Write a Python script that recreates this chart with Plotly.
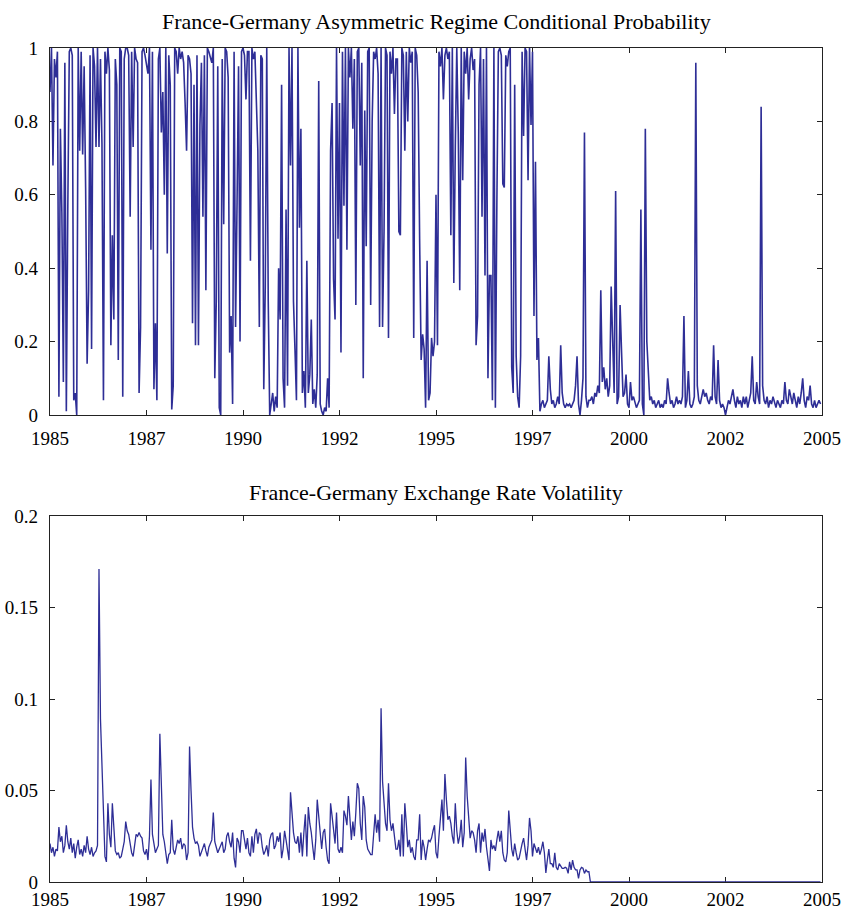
import plotly.graph_objects as go

# ---------------- data (biweekly observations, 26 per year) ----------------
years = list(range(1985, 2005))
obs_per_year = 26

# France-Germany asymmetric regime conditional probability (one row per year)
prob = [
    # 1985
    0.88, 1.0, 0.68, 0.97, 0.92, 0.99, 0.05, 0.78, 0.55, 0.09, 0.96, 0.01, 0.57, 0.99, 1.0, 0.98, 0.04, 0.06, 0.0, 1.0, 0.72, 0.99, 0.71, 0.95, 0.62, 0.14,
    # 1986
    0.34, 0.98, 0.18, 1.0, 0.95, 0.73, 1.0, 0.73, 0.97, 0.74, 0.04, 0.99, 0.93, 1.0, 0.94, 0.19, 0.49, 0.26, 0.97, 0.9, 0.15, 1.0, 0.99, 0.05, 0.97, 1.0,
    # 1987
    1.0, 0.98, 0.54, 0.99, 0.73, 1.0, 0.97, 0.96, 0.06, 0.24, 0.99, 1.0, 0.98, 0.95, 0.93, 1.0, 0.45, 0.99, 0.07, 0.25, 0.04, 0.97, 1.0, 0.77, 0.88, 0.6,
    # 1988
    1.0, 0.44, 0.98, 0.9, 0.015, 0.08, 1.0, 0.99, 0.93, 1.0, 0.97, 0.99, 0.96, 0.85, 0.72, 0.98, 0.97, 0.93, 0.25, 0.9, 0.19, 0.98, 0.19, 0.79, 0.96, 0.54,
    # 1989
    0.98, 0.34, 1.0, 0.99, 0.97, 0.96, 1.0, 0.1, 0.31, 0.95, 0.02, 0.0, 0.97, 0.52, 1.0, 0.99, 0.92, 0.17, 0.27, 0.03, 0.99, 0.24, 0.58, 0.95, 0.2, 0.99,
    # 1990
    1.0, 0.98, 0.86, 0.99, 0.99, 0.42, 1.0, 0.97, 0.99, 0.85, 0.72, 0.24, 0.98, 0.97, 0.07, 0.35, 1.0, 0.31, 0.0, 0.03, 0.06, 0.01, 0.05, 0.02, 0.4, 0.26,
    # 1991
    0.9, 0.1, 0.02, 0.56, 0.08, 1.0, 0.68, 1.0, 0.31, 0.18, 0.04, 1.0, 0.51, 0.78, 0.06, 0.12, 0.02, 0.42, 0.06, 0.11, 0.26, 0.03, 0.07, 0.02, 0.11, 0.91,
    # 1992
    0.03, 0.01, 0.0, 0.02, 0.01, 0.1, 0.02, 0.72, 0.85, 0.37, 0.26, 1.0, 0.48, 0.85, 0.17, 0.99, 0.57, 1.0, 0.45, 1.0, 0.92, 1.0, 0.78, 0.97, 0.30, 0.99,
    # 1993
    1.0, 0.68, 0.96, 0.1, 0.83, 0.46, 0.99, 1.0, 0.30, 0.8, 0.99, 0.97, 1.0, 0.93, 0.24, 1.0, 0.24, 0.5, 1.0, 0.98, 0.21, 0.99, 0.93, 1.0, 0.82, 0.97,
    # 1994
    0.97, 0.5, 0.49, 1.0, 0.98, 0.72, 0.99, 0.8, 1.0, 0.96, 0.99, 0.21, 1.0, 0.98, 0.88, 0.47, 0.15, 0.22, 0.18, 0.02, 0.42, 0.04, 0.06, 0.21, 0.16, 0.2,
    # 1995
    0.6, 0.19, 0.99, 0.95, 1.0, 0.86, 0.98, 1.0, 0.97, 0.99, 0.49, 1.0, 0.36, 0.73, 1.0, 0.77, 0.34, 1.0, 0.64, 0.99, 0.93, 1.0, 0.86, 0.97, 1.0, 0.94,
    # 1996
    0.97, 0.19, 0.27, 0.9, 1.0, 0.54, 0.97, 0.38, 1.0, 0.1, 0.38, 0.38, 0.04, 1.0, 0.02, 0.58, 0.99, 1.0, 0.98, 0.63, 0.62, 0.98, 0.95, 0.99, 1.0, 0.13,
    # 1997
    0.06, 0.9, 0.16, 0.05, 0.02, 0.16, 0.99, 0.76, 1.0, 0.99, 0.64, 1.0, 0.79, 0.99, 0.27, 0.69, 0.15, 0.21, 0.01, 0.03, 0.04, 0.02, 0.03, 0.04, 0.16, 0.07,
    # 1998
    0.03, 0.04, 0.02, 0.03, 0.05, 0.03, 0.19, 0.06, 0.03, 0.02, 0.03, 0.025, 0.03, 0.02, 0.03, 0.04, 0.08, 0.16, 0.03, 0.0, 0.04, 0.1, 0.77, 0.05, 0.02, 0.04,
    # 1999
    0.04, 0.05, 0.03, 0.06, 0.05, 0.08, 0.06, 0.34, 0.09, 0.13, 0.07, 0.1, 0.05, 0.08, 0.35, 0.17, 0.06, 0.61, 0.03, 0.05, 0.3, 0.17, 0.05, 0.06, 0.11, 0.03,
    # 2000
    0.02, 0.09, 0.04, 0.05, 0.03, 0.02, 0.03, 0.04, 0.56, 0.03, 0.0, 0.78, 0.2, 0.11, 0.04, 0.05, 0.03, 0.04, 0.02, 0.03, 0.04, 0.02, 0.03, 0.02, 0.04, 0.03,
    # 2001
    0.1, 0.06, 0.03, 0.04, 0.02, 0.03, 0.05, 0.03, 0.04, 0.03, 0.05, 0.27, 0.02, 0.04, 0.12, 0.03, 0.02, 0.03, 0.05, 0.96, 0.08, 0.04, 0.03, 0.05, 0.07, 0.05,
    # 2002
    0.06, 0.04, 0.03, 0.05, 0.04, 0.19, 0.05, 0.03, 0.15, 0.04, 0.02, 0.03, 0.02, 0.0, 0.02, 0.04, 0.03, 0.05, 0.07, 0.04, 0.02, 0.05, 0.03, 0.04, 0.02, 0.05,
    # 2003
    0.03, 0.05, 0.02, 0.04, 0.06, 0.16, 0.04, 0.03, 0.09, 0.05, 0.03, 0.84, 0.08, 0.04, 0.03, 0.05, 0.02, 0.04, 0.03, 0.05, 0.03, 0.02, 0.04, 0.03, 0.02, 0.04,
    # 2004
    0.03, 0.09, 0.04, 0.03, 0.07, 0.05, 0.03, 0.06, 0.04, 0.02, 0.05, 0.03, 0.06, 0.1, 0.04, 0.02, 0.05, 0.04, 0.08, 0.03, 0.02, 0.04, 0.02, 0.03, 0.04, 0.03,
]

# France-Germany exchange rate volatility (one row per year)
vol = [
    # 1985
    0.021, 0.016, 0.019, 0.014, 0.018, 0.017, 0.030, 0.022, 0.025, 0.016, 0.020, 0.031, 0.022, 0.018, 0.024, 0.016, 0.021, 0.013, 0.019, 0.023, 0.015, 0.018, 0.014, 0.020, 0.016, 0.025,
    # 1986
    0.018, 0.015, 0.019, 0.014, 0.016, 0.017, 0.020, 0.171, 0.089, 0.060, 0.037, 0.014, 0.011, 0.043, 0.026, 0.019, 0.043, 0.026, 0.017, 0.015, 0.016, 0.013, 0.014, 0.018, 0.022, 0.033,
    # 1987
    0.028, 0.026, 0.020, 0.016, 0.014, 0.020, 0.026, 0.025, 0.027, 0.025, 0.024, 0.017, 0.015, 0.018, 0.012, 0.025, 0.056, 0.026, 0.022, 0.016, 0.018, 0.020, 0.081, 0.050, 0.026, 0.022,
    # 1988
    0.017, 0.010, 0.015, 0.016, 0.034, 0.018, 0.015, 0.020, 0.023, 0.021, 0.024, 0.018, 0.021, 0.020, 0.012, 0.016, 0.074, 0.050, 0.030, 0.024, 0.021, 0.022, 0.020, 0.014, 0.016, 0.019,
    # 1989
    0.021, 0.017, 0.014, 0.019, 0.021, 0.023, 0.038, 0.022, 0.019, 0.016, 0.018, 0.020, 0.022, 0.016, 0.018, 0.025, 0.027, 0.022, 0.019, 0.027, 0.013, 0.008, 0.024, 0.022, 0.016, 0.028,
    # 1990
    0.028, 0.023, 0.018, 0.024, 0.016, 0.014, 0.025, 0.016, 0.026, 0.029, 0.021, 0.027, 0.026, 0.019, 0.015, 0.017, 0.020, 0.014, 0.023, 0.026, 0.027, 0.018, 0.020, 0.025, 0.022, 0.027,
    # 1991
    0.013, 0.018, 0.028, 0.023, 0.018, 0.012, 0.049, 0.036, 0.027, 0.022, 0.021, 0.025, 0.016, 0.027, 0.014, 0.027, 0.037, 0.014, 0.041, 0.032, 0.027, 0.019, 0.012, 0.023, 0.045, 0.036,
    # 1992
    0.027, 0.018, 0.027, 0.029, 0.019, 0.012, 0.010, 0.043, 0.036, 0.027, 0.021, 0.038, 0.018, 0.016, 0.019, 0.016, 0.039, 0.036, 0.031, 0.047, 0.032, 0.023, 0.033, 0.025, 0.038, 0.054,
    # 1993
    0.051, 0.032, 0.023, 0.047, 0.041, 0.023, 0.018, 0.016, 0.015, 0.015, 0.027, 0.037, 0.027, 0.034, 0.022, 0.095, 0.055, 0.041, 0.032, 0.028, 0.054, 0.034, 0.028, 0.032, 0.023, 0.018,
    # 1994
    0.018, 0.023, 0.014, 0.037, 0.014, 0.043, 0.032, 0.019, 0.023, 0.016, 0.019, 0.014, 0.012, 0.023, 0.023, 0.037, 0.012, 0.023, 0.019, 0.012, 0.018, 0.023, 0.022, 0.024, 0.028, 0.031,
    # 1995
    0.016, 0.013, 0.025, 0.036, 0.045, 0.028, 0.059, 0.045, 0.034, 0.036, 0.032, 0.025, 0.021, 0.043, 0.028, 0.021, 0.025, 0.034, 0.019, 0.027, 0.068, 0.047, 0.036, 0.024, 0.028, 0.027,
    # 1996
    0.023, 0.016, 0.028, 0.032, 0.016, 0.027, 0.022, 0.029, 0.019, 0.012, 0.006, 0.023, 0.018, 0.020, 0.017, 0.023, 0.028, 0.022, 0.028, 0.016, 0.012, 0.011, 0.016, 0.039, 0.025, 0.018,
    # 1997
    0.014, 0.021, 0.016, 0.012, 0.013, 0.018, 0.021, 0.024, 0.018, 0.012, 0.020, 0.035, 0.028, 0.014, 0.021, 0.018, 0.016, 0.019, 0.015, 0.018, 0.022, 0.016, 0.005, 0.012, 0.018, 0.010,
    # 1998
    0.010, 0.008, 0.016, 0.008, 0.0066, 0.010, 0.009, 0.0075, 0.0075, 0.008, 0.0075, 0.0047, 0.011, 0.0066, 0.012, 0.008, 0.0066, 0.0066, 0.002, 0.0066, 0.008, 0.0075, 0.0047, 0.0066, 0.0056, 0.0056,
    # 1999
    0, 0, 0, 0, 0, 0, 0, 0, 0, 0, 0, 0, 0, 0, 0, 0, 0, 0, 0, 0, 0, 0, 0, 0, 0, 0,
    # 2000
    0, 0, 0, 0, 0, 0, 0, 0, 0, 0, 0, 0, 0, 0, 0, 0, 0, 0, 0, 0, 0, 0, 0, 0, 0, 0,
    # 2001
    0, 0, 0, 0, 0, 0, 0, 0, 0, 0, 0, 0, 0, 0, 0, 0, 0, 0, 0, 0, 0, 0, 0, 0, 0, 0,
    # 2002
    0, 0, 0, 0, 0, 0, 0, 0, 0, 0, 0, 0, 0, 0, 0, 0, 0, 0, 0, 0, 0, 0, 0, 0, 0, 0,
    # 2003
    0, 0, 0, 0, 0, 0, 0, 0, 0, 0, 0, 0, 0, 0, 0, 0, 0, 0, 0, 0, 0, 0, 0, 0, 0, 0,
    # 2004
    0, 0, 0, 0, 0, 0, 0, 0, 0, 0, 0, 0, 0, 0, 0, 0, 0, 0, 0, 0, 0, 0, 0, 0, 0, 0,
]

x_tick_vals = [1985, 1987.5, 1990, 1992.5, 1995, 1997.5, 2000, 2002.5, 2005]
x_tick_text = ["1985", "1987", "1990", "1992", "1995", "1997", "2000", "2002", "2005"]
prob_tick_vals = [0, 0.2, 0.4, 0.6, 0.8, 1]
prob_tick_text = ["0", "0.2", "0.4", "0.6", "0.8", "1"]
vol_tick_vals = [0, 0.05, 0.1, 0.15, 0.2]
vol_tick_text = ["0", "0.05", "0.1", "0.15", "0.2"]

title_top = "France-Germany Asymmetric Regime Conditional Probability"
title_bottom = "France-Germany Exchange Rate Volatility"

# decimal-year time index
t = [y + k / obs_per_year for y in years for k in range(obs_per_year)]

# ---------------- figure ----------------
LINE = "rgb(46,46,150)"
FONT = "Liberation Serif, Times New Roman, serif"
W, H = 848, 909
L, R, T, B = 50, 26, 48, 27
plot_h = H - T - B

def frac(py):
    return (H - B - py) / plot_h

fig = go.Figure()
fig.add_trace(go.Scatter(x=t, y=prob, mode="lines", line=dict(color=LINE, width=1.6),
                         xaxis="x", yaxis="y", showlegend=False, hoverinfo="skip"))
fig.add_trace(go.Scatter(x=t, y=vol, mode="lines", line=dict(color=LINE, width=1.3),
                         xaxis="x2", yaxis="y2", showlegend=False, hoverinfo="skip"))

axis_common = dict(showline=True, linecolor="#222222", linewidth=1.2, mirror="ticks",
                   ticks="inside", ticklen=5, tickwidth=1, tickcolor="#222222",
                   showgrid=False, zeroline=False, layer="below traces",
                   tickfont=dict(family=FONT, size=19, color="black"))

fig.update_layout(
    width=W, height=H,
    margin=dict(l=L, r=R, t=T, b=B, autoexpand=False),
    paper_bgcolor="white", plot_bgcolor="white",
    font=dict(family=FONT, color="black"),
    xaxis=dict(domain=[0, 1], range=[1985, 2005], tickvals=x_tick_vals, ticktext=x_tick_text,
               anchor="y", ticklabelstandoff=6, **axis_common),
    yaxis=dict(domain=[frac(415), 1.0], range=[0, 1], tickvals=prob_tick_vals,
               ticktext=prob_tick_text, anchor="x", ticklabelstandoff=7, **axis_common),
    xaxis2=dict(domain=[0, 1], range=[1985, 2005], tickvals=x_tick_vals, ticktext=x_tick_text,
                anchor="y2", ticklabelstandoff=0, **axis_common),
    yaxis2=dict(domain=[0, frac(516)], range=[0, 0.2], tickvals=vol_tick_vals,
                ticktext=vol_tick_text, anchor="x2", ticklabelstandoff=7, **axis_common),
    annotations=[
        dict(text=title_top, x=0.5, y=frac(22), xref="paper", yref="paper",
             xanchor="center", yanchor="middle", showarrow=False,
             font=dict(family=FONT, size=22, color="black")),
        dict(text=title_bottom, x=0.5, y=frac(492), xref="paper", yref="paper",
             xanchor="center", yanchor="middle", showarrow=False,
             font=dict(family=FONT, size=22, color="black")),
    ],
)

fig.write_html(
    "out.html",
    config={"displayModeBar": False, "staticPlot": True},
    post_script="document.body.style.margin='0';document.body.style.overflow='hidden';",
)
